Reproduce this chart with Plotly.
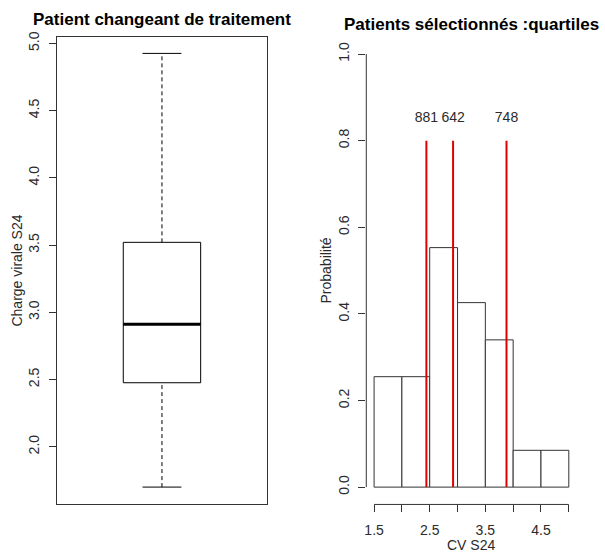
import plotly.graph_objects as go

# ---------------- data ----------------
# left panel: boxplot statistics of "Charge virale S24"
box_whisker_low = 1.70
box_q1 = 2.476
box_median = 2.91
box_q3 = 3.52
box_whisker_high = 4.925
left_yticks = [2.0, 2.5, 3.0, 3.5, 4.0, 4.5, 5.0]
left_yticklabels = ["2.0", "2.5", "3.0", "3.5", "4.0", "4.5", "5.0"]

# right panel: histogram (probability density) of CV S24
hist_bin_edges = [1.5, 2.0, 2.5, 3.0, 3.5, 4.0, 4.5, 5.0]
hist_density = [0.255, 0.255, 0.553, 0.426, 0.340, 0.085, 0.085]
quartile_x = [2.44, 2.92, 3.88]
quartile_labels = ["881", "642", "748"]
quartile_line_top = 0.8
quartile_label_y = 0.85
right_yticks = [0.0, 0.2, 0.4, 0.6, 0.8, 1.0]
right_yticklabels = ["0.0", "0.2", "0.4", "0.6", "0.8", "1.0"]
right_xticks = [1.5, 2.0, 2.5, 3.0, 3.5, 4.0, 4.5, 5.0]
right_xticklabels = ["1.5", "", "2.5", "", "3.5", "", "4.5", ""]

# ---------------- figure ----------------
W, H = 605, 553
FONT = "Liberation Sans, Arial, sans-serif"
AX = "#333333"
TXT = "#2a2a2a"


def px(x):  # page pixel -> paper x
    return x / W


def py(y):  # page pixel -> paper y
    return 1 - y / H


fig = go.Figure()

# ---- left boxplot ----
cx = 0.5
half_box = 0.184
half_cap = 0.0925
fig.add_trace(go.Scatter(
    x=[cx - half_box, cx + half_box, cx + half_box, cx - half_box, cx - half_box],
    y=[box_q1, box_q1, box_q3, box_q3, box_q1],
    mode="lines", line=dict(color="black", width=1),
    xaxis="x", yaxis="y", hoverinfo="skip", showlegend=False))
fig.add_trace(go.Scatter(
    x=[cx - half_box, cx + half_box], y=[box_median, box_median],
    mode="lines", line=dict(color="black", width=3),
    xaxis="x", yaxis="y", hoverinfo="skip", showlegend=False))
for a, b in [(box_whisker_low, box_q1), (box_q3, box_whisker_high)]:
    fig.add_trace(go.Scatter(
        x=[cx, cx], y=[a, b], mode="lines",
        line=dict(color="black", width=1, dash="4px,3px"),
        xaxis="x", yaxis="y", hoverinfo="skip", showlegend=False))
for v in [box_whisker_low, box_whisker_high]:
    fig.add_trace(go.Scatter(
        x=[cx - half_cap, cx + half_cap], y=[v, v], mode="lines",
        line=dict(color="black", width=1),
        xaxis="x", yaxis="y", hoverinfo="skip", showlegend=False))

# ---- right histogram ----
centers = [(hist_bin_edges[i] + hist_bin_edges[i + 1]) / 2 for i in range(len(hist_density))]
widths = [hist_bin_edges[i + 1] - hist_bin_edges[i] for i in range(len(hist_density))]
fig.add_trace(go.Bar(
    x=centers, y=hist_density, width=widths,
    marker=dict(color="white", line=dict(color=AX, width=1)),
    xaxis="x2", yaxis="y2", hoverinfo="skip", showlegend=False))
for q in quartile_x:
    fig.add_trace(go.Scatter(
        x=[q, q], y=[0, quartile_line_top], mode="lines",
        line=dict(color="#e00000", width=2),
        xaxis="x2", yaxis="y2", hoverinfo="skip", showlegend=False))
fig.add_trace(go.Scatter(
    x=quartile_x, y=[quartile_label_y] * len(quartile_x), mode="text",
    text=quartile_labels, textposition="middle center",
    textfont=dict(family=FONT, size=14, color=TXT),
    xaxis="x2", yaxis="y2", hoverinfo="skip", showlegend=False))

fig.add_shape(type="line", xref="x2 domain", yref="y2", x0=0, x1=0,
              y0=right_yticks[0], y1=right_yticks[-1], line=dict(color=AX, width=1))
fig.add_shape(type="line", xref="x2", yref="y2 domain", x0=right_xticks[0], x1=right_xticks[-1],
              y0=0, y1=0, line=dict(color=AX, width=1))

ydom = [py(504), py(32)]
tickfont = dict(family=FONT, size=14, color=TXT)

fig.update_layout(
    width=W, height=H,
    margin=dict(l=0, r=0, t=0, b=0),
    paper_bgcolor="white", plot_bgcolor="white",
    font=dict(family=FONT, color=TXT),
    xaxis=dict(domain=[px(55), px(266)], range=[0, 1], showgrid=False, zeroline=False,
               showticklabels=False, ticks="", showline=True, mirror=True,
               linecolor=AX, linewidth=1, fixedrange=True),
    yaxis=dict(domain=ydom, range=[1.571, 5.049], showgrid=False, zeroline=False,
               tickmode="array", tickvals=left_yticks, ticktext=left_yticklabels,
               ticks="outside", ticklen=7, tickcolor=AX, tickangle=-90,
               tickfont=tickfont, showline=True, mirror=True, linecolor=AX, linewidth=1,
               ticklabelstandoff=4, fixedrange=True),
    xaxis2=dict(domain=[px(365.5), px(576.5)], range=[1.36, 5.14], showgrid=False, zeroline=False,
                tickmode="array", tickvals=right_xticks, ticktext=right_xticklabels,
                ticks="outside", ticklen=7, tickcolor=AX, tickfont=tickfont,
                showline=False, anchor="y2", ticklabelstandoff=6, fixedrange=True),
    yaxis2=dict(domain=ydom, range=[-0.04, 1.04], showgrid=False, zeroline=False,
                tickmode="array", tickvals=right_yticks, ticktext=right_yticklabels,
                ticks="outside", ticklen=7, tickcolor=AX, tickangle=-90,
                tickfont=tickfont, showline=False, anchor="x2",
                ticklabelstandoff=4, fixedrange=True),
    annotations=[
        dict(text="<b>Patient changeant de traitement</b>", x=px(160.5), y=py(15),
             xref="paper", yref="paper", showarrow=False, xanchor="center", yanchor="middle",
             font=dict(family=FONT, size=17, color="black")),
        dict(text="<b>Patients sélectionnés :quartiles</b>", x=px(471), y=py(20),
             xref="paper", yref="paper", showarrow=False, xanchor="center", yanchor="middle",
             font=dict(family=FONT, size=17, color="black")),
        dict(text="Charge virale S24", x=px(15), y=py(268), textangle=-90,
             xref="paper", yref="paper", showarrow=False, xanchor="center", yanchor="middle",
             font=dict(family=FONT, size=14, color=TXT)),
        dict(text="Probabilité", x=px(325), y=py(268), textangle=-90,
             xref="paper", yref="paper", showarrow=False, xanchor="center", yanchor="middle",
             font=dict(family=FONT, size=14, color=TXT)),
        dict(text="CV S24", x=px(471), y=py(545),
             xref="paper", yref="paper", showarrow=False, xanchor="center", yanchor="middle",
             font=dict(family=FONT, size=14, color=TXT)),
    ],
)

fig.write_html(
    "out.html",
    config={"displayModeBar": False, "staticPlot": True},
    post_script="document.body.style.margin='0';document.body.style.overflow='hidden';",
)
